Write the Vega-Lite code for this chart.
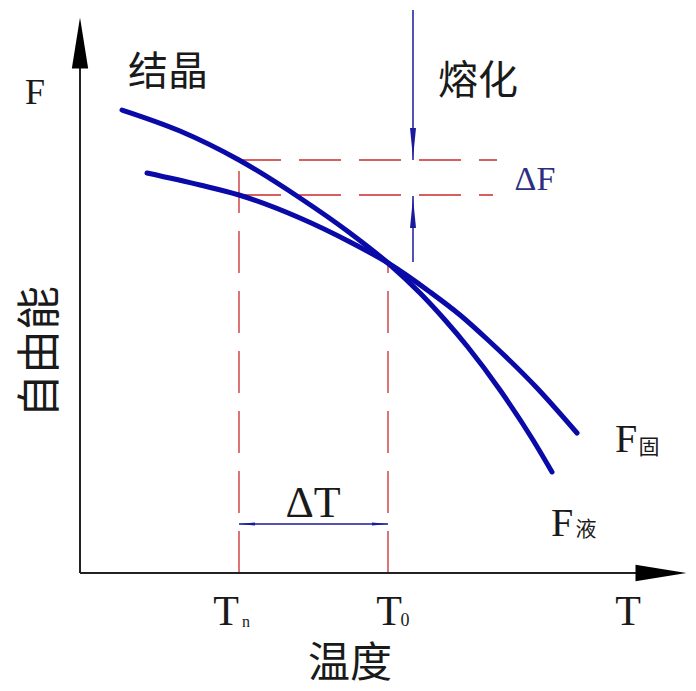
{
  "$schema": "https://vega.github.io/schema/vega-lite/v6.json",
  "width": 696,
  "height": 691,
  "autosize": "none",
  "padding": 0,
  "background": "white",
  "config": {"view": {"stroke": null}},
  "encoding": {
    "x": {"type": "quantitative", "scale": {"domain": [-80, 616], "nice": false, "zero": false}, "axis": null},
    "y": {"type": "quantitative", "scale": {"domain": [-118, 573], "nice": false, "zero": false}, "axis": null}
  },
  "layer": [
    {
      "data": {"values": [
        {"x": 159, "y": 413, "x2": 417, "y2": 413},
        {"x": 159, "y": 378, "x2": 413, "y2": 378},
        {"x": 159, "y": 0, "x2": 159, "y2": 413},
        {"x": 308, "y": 0, "x2": 308, "y2": 310}
      ]},
      "mark": {"type": "rule", "color": "#cc2b2b", "strokeWidth": 1.3, "strokeDash": [42, 18]},
      "encoding": {"x": {"field": "x", "type": "quantitative"}, "y": {"field": "y", "type": "quantitative"}, "x2": {"field": "x2"}, "y2": {"field": "y2"}}
    },
    {
      "data": {"values": [
        {"x": 0, "y": 0, "x2": 0, "y2": 510},
        {"x": 0, "y": 0, "x2": 560, "y2": 0}
      ]},
      "mark": {"type": "rule", "color": "#222222", "strokeWidth": 2},
      "encoding": {"x": {"field": "x", "type": "quantitative"}, "y": {"field": "y", "type": "quantitative"}, "x2": {"field": "x2"}, "y2": {"field": "y2"}}
    },
    {
      "data": {"values": [
        {"x": 0, "y": 530, "angle": 0},
        {"x": 581, "y": 0, "angle": 90}
      ]},
      "mark": {"type": "point", "shape": "M0,-1L0.32,1L-0.32,1Z", "filled": true, "color": "#000000", "opacity": 1, "size": 2600},
      "encoding": {"x": {"field": "x", "type": "quantitative"}, "y": {"field": "y", "type": "quantitative"}, "angle": {"field": "angle", "type": "quantitative", "scale": null}}
    },
    {
      "data": {"values": [
        {"x": 333, "y": 563, "x2": 333, "y2": 413},
        {"x": 333, "y": 377, "x2": 333, "y2": 311},
        {"x": 159, "y": 49, "x2": 308, "y2": 49}
      ]},
      "mark": {"type": "rule", "color": "#1a1a9a", "strokeWidth": 1.5},
      "encoding": {"x": {"field": "x", "type": "quantitative"}, "y": {"field": "y", "type": "quantitative"}, "x2": {"field": "x2"}, "y2": {"field": "y2"}}
    },
    {
      "data": {"values": [
        {"x": 333, "y": 430, "angle": 180, "s": 900},
        {"x": 333, "y": 360, "angle": 0, "s": 900},
        {"x": 167, "y": 49, "angle": 270, "s": 256},
        {"x": 300, "y": 49, "angle": 90, "s": 256}
      ]},
      "mark": {"type": "point", "shape": "M0,-1L0.2,1L-0.2,1Z", "filled": true, "color": "#1a1a9a", "opacity": 1},
      "encoding": {"x": {"field": "x", "type": "quantitative"}, "y": {"field": "y", "type": "quantitative"}, "angle": {"field": "angle", "type": "quantitative", "scale": null}, "size": {"field": "s", "type": "quantitative", "scale": null}}
    },
    {
      "data": {"values": [
        {"phase": "liquid", "T": 42, "F": 463},
        {"phase": "liquid", "T": 100, "F": 442},
        {"phase": "liquid", "T": 159, "F": 413},
        {"phase": "liquid", "T": 220, "F": 375},
        {"phase": "liquid", "T": 270, "F": 340},
        {"phase": "liquid", "T": 308, "F": 310},
        {"phase": "liquid", "T": 340, "F": 280},
        {"phase": "liquid", "T": 365, "F": 253},
        {"phase": "liquid", "T": 387, "F": 227},
        {"phase": "liquid", "T": 420, "F": 183},
        {"phase": "liquid", "T": 453, "F": 133},
        {"phase": "liquid", "T": 472, "F": 101},
        {"phase": "solid", "T": 67, "F": 400},
        {"phase": "solid", "T": 120, "F": 388},
        {"phase": "solid", "T": 159, "F": 378},
        {"phase": "solid", "T": 220, "F": 355},
        {"phase": "solid", "T": 270, "F": 331},
        {"phase": "solid", "T": 308, "F": 310},
        {"phase": "solid", "T": 350, "F": 281},
        {"phase": "solid", "T": 380, "F": 258},
        {"phase": "solid", "T": 408, "F": 233},
        {"phase": "solid", "T": 457, "F": 185},
        {"phase": "solid", "T": 497, "F": 140}
      ]},
      "mark": {"type": "line", "color": "#0a0aa8", "strokeWidth": 5, "interpolate": "monotone", "strokeCap": "round"},
      "encoding": {"x": {"field": "T", "type": "quantitative"}, "y": {"field": "F", "type": "quantitative"}, "detail": {"field": "phase"}}
    },
    {
      "data": {"values": [
        {"x": -45, "y": 480, "t": "F", "s": 36},
        {"x": 146, "y": -39, "t": "T", "s": 42},
        {"x": 309, "y": -39, "t": "T", "s": 42},
        {"x": 548, "y": -39, "t": "T", "s": 42},
        {"x": 233, "y": 69, "t": "ΔT", "s": 44},
        {"x": 546, "y": 133, "t": "F", "s": 40},
        {"x": 482, "y": 49, "t": "F", "s": 40}
      ]},
      "mark": {"type": "text", "font": "Liberation Serif", "color": "#1a1a1a", "align": "center", "baseline": "middle"},
      "encoding": {"x": {"field": "x", "type": "quantitative"}, "y": {"field": "y", "type": "quantitative"}, "text": {"field": "t"}, "size": {"field": "s", "type": "quantitative", "scale": null}}
    },
    {
      "data": {"values": [
        {"x": 166, "y": -49, "t": "n", "s": 16},
        {"x": 325, "y": -48, "t": "0", "s": 18}
      ]},
      "mark": {"type": "text", "font": "Liberation Serif", "color": "#1a1a1a", "align": "center", "baseline": "middle"},
      "encoding": {"x": {"field": "x", "type": "quantitative"}, "y": {"field": "y", "type": "quantitative"}, "text": {"field": "t"}, "size": {"field": "s", "type": "quantitative", "scale": null}}
    },
    {
      "data": {"values": [
        {"x": 455, "y": 393, "t": "ΔF", "s": 34}
      ]},
      "mark": {"type": "text", "font": "Liberation Serif", "color": "#2e2e82", "align": "center", "baseline": "middle"},
      "encoding": {"x": {"field": "x", "type": "quantitative"}, "y": {"field": "y", "type": "quantitative"}, "text": {"field": "t"}, "size": {"field": "s", "type": "quantitative", "scale": null}}
    },
    {
      "data": {"values": [
        {"x": 88, "y": 500, "t": "结晶", "s": 40, "a": 0},
        {"x": 398, "y": 491, "t": "熔化", "s": 40, "a": 0},
        {"x": 270, "y": -91, "t": "温度", "s": 42, "a": 0},
        {"x": -38, "y": 221, "t": "自由能", "s": 44, "a": -90},
        {"x": 569, "y": 125, "t": "固", "s": 21, "a": 0},
        {"x": 506, "y": 43, "t": "液", "s": 21, "a": 0}
      ]},
      "mark": {"type": "text", "font": "Noto Sans CJK SC", "color": "#1a1a1a", "align": "center", "baseline": "middle"},
      "encoding": {"x": {"field": "x", "type": "quantitative"}, "y": {"field": "y", "type": "quantitative"}, "text": {"field": "t"}, "size": {"field": "s", "type": "quantitative", "scale": null}, "angle": {"field": "a", "type": "quantitative", "scale": null}}
    }
  ]
}
